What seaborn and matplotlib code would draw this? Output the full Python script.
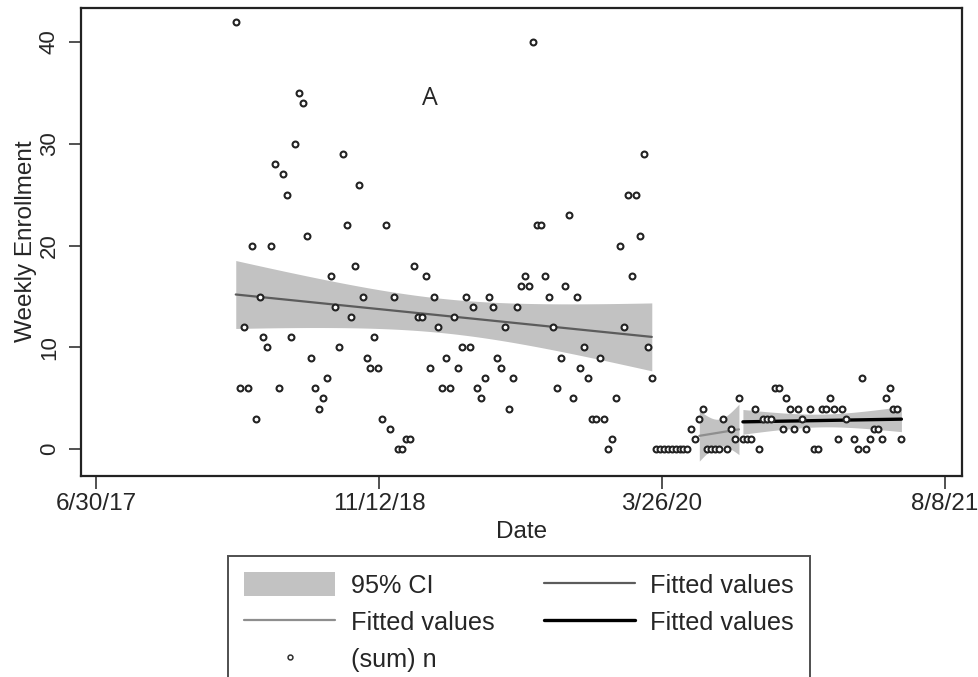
import numpy as np
import pandas as pd
import matplotlib
matplotlib.use("Agg")
import matplotlib.pyplot as plt
import matplotlib.dates as mdates
from matplotlib.patches import Patch
from matplotlib.lines import Line2D
import seaborn as sns

# weekly enrollment counts, first week starting 2018-03-04 (nan = no record)
first_week = "2018-03-04"
counts = [
    42, 6, 12, 6, 20, 3, 15, 11, 10, 20, 28, 6, 27, 25, 11, 30, 35, 34, 21, 9,
    6, 4, 5, 7, 17, 14, 10, 29, 22, 13, 18, 26, 15, 9, 8, 11, 8, 3, 22, 2,
    15, 0, 0, 1, 1, 18, 13, 13, 17, 8, 15, 12, 6, 9, 6, 13, 8, 10, 15, 10,
    14, 6, 5, 7, 15, 14, 9, 8, 12, 4, 7, 14, 16, 17, 16, 40, 22, 22, 17, 15,
    12, 6, 9, 16, 23, 5, 15, 8, 10, 7, 3, 3, 9, 3, 0, 1, 5, 20, 12, 25,
    17, 25, 21, 29, 10, 7,
    0, 0, 0, 0, 0, 0, 0, 0, 0, 2, 1,
    3, 4, 0, 0, 0, 0, 3, 0, 2, 1, 5,
    1, 1, 1, 4, 0, 3, 3, 3, 6, 6, 2, 5, 4, 2, 4, 3, 2, 4, 0, 0,
    4, 4, 5, 4, 1, 4, 3, np.nan, 1, 0, 7, 0, 1, 2, 2, 1, 5, 6, 4, 4, 1,
]
# week index ranges used for the three linear fits
fit_ranges = [(0, 105), (117, 127), (128, 168)]
fit_colors = ["#5c5c5c", "#8e8e8e", "#000000"]
fit_widths = [1.6, 1.6, 2.4]

tick_dates = ["2017-06-30", "2018-11-12", "2020-03-26", "2021-08-08"]
tick_labels = ["6/30/17", "11/12/18", "3/26/20", "8/8/21"]

df = pd.DataFrame({
    "date": pd.date_range(first_week, periods=len(counts), freq="7D"),
    "n": counts,
})
df["x"] = mdates.date2num(df["date"])


def t_crit(dof):
    # Cornish-Fisher approximation of the 97.5% t quantile
    z = 1.959964
    return z + (z**3 + z) / (4 * dof) + (5 * z**5 + 16 * z**3 + 3 * z) / (96 * dof**2)


def linfit_ci(sub):
    sub = sub.dropna()
    x = sub["x"].to_numpy()
    y = sub["n"].to_numpy(dtype=float)
    b, a = np.polyfit(x, y, 1)
    resid = y - (a + b * x)
    s = np.sqrt((resid**2).sum() / (len(x) - 2))
    xs = np.linspace(x.min(), x.max(), 100)
    yhat = a + b * xs
    se = s * np.sqrt(1 / len(x) + (xs - x.mean())**2 / ((x - x.mean())**2).sum())
    t = t_crit(len(x) - 2)
    return pd.DataFrame({"x": xs, "fit": yhat, "lo": yhat - t * se, "hi": yhat + t * se})


sns.set_style("white")
plt.rcParams["font.family"] = ["Liberation Sans", "DejaVu Sans"]

fig = plt.figure(figsize=(9.79, 6.77), dpi=100)
ax = fig.add_axes([0.0824, 0.2973, 0.9002, 0.6916])

fits = [linfit_ci(df.iloc[i0:i1 + 1]) for i0, i1 in fit_ranges]
for f in fits:
    ax.fill_between(f["x"], f["lo"], f["hi"], color="#c2c2c2", linewidth=0, zorder=1)
for f, c, lw in zip(fits, fit_colors, fit_widths):
    sns.lineplot(data=f, x="x", y="fit", color=c, linewidth=lw, ax=ax, zorder=3)

sns.scatterplot(data=df, x="x", y="n", marker="o", s=18, facecolor="white",
                edgecolor="#222222", linewidth=1.5, ax=ax, zorder=4)

x0 = mdates.date2num(pd.Timestamp("2017-06-30"))
ax.set_xlim(x0 - 27, x0 + 1530)
ax.set_ylim(-2.6, 43.4)
ax.set_xticks(mdates.date2num(pd.to_datetime(tick_dates)))
ax.set_xticklabels(tick_labels)
ax.set_yticks([0, 10, 20, 30, 40])
ax.tick_params(axis="both", which="major", length=9, width=1.2, color="#333333",
               labelsize=17.5, bottom=True, left=True)
ax.tick_params(axis="y", pad=6, labelsize=16)
for lab in ax.get_yticklabels():
    lab.set_rotation(90)
    lab.set_va("center")
ax.set_xlabel("Date", fontsize=17.5, labelpad=4)
ax.set_ylabel("Weekly Enrollment", fontsize=17.5, labelpad=1)
for sp in ax.spines.values():
    sp.set_color("#222222")
    sp.set_linewidth(1.6)

ax.text(pd.Timestamp("2019-02-10"), 34.5, "A", fontsize=18, family=["Open Sans", "DejaVu Sans"],
        ha="center", va="center")

handles = [
    Patch(facecolor="#c2c2c2", edgecolor="none"),
    Line2D([], [], color=fit_colors[1], lw=fit_widths[1]),
    Line2D([], [], marker="o", ls="none", markersize=3.5, markerfacecolor="white",
           markeredgecolor="#2e2e2e", markeredgewidth=1.1),
    Line2D([], [], color=fit_colors[0], lw=fit_widths[0]),
    Line2D([], [], color=fit_colors[2], lw=fit_widths[2]),
]
labels = ["95% CI", "Fitted values", "(sum) n", "Fitted values", "Fitted values"]
leg = fig.legend(handles, labels, ncol=2, loc="upper left",
                 bbox_to_anchor=(0.2329, 0.1787), fontsize=18.2, frameon=True,
                 fancybox=False, edgecolor="#222222", handlelength=3.6,
                 handleheight=1.05, handletextpad=0.6, columnspacing=1.95,
                 labelspacing=0.46, borderpad=0.65, borderaxespad=0)
leg.get_frame().set_linewidth(1.4)

fig.savefig("out.png", dpi=100)
